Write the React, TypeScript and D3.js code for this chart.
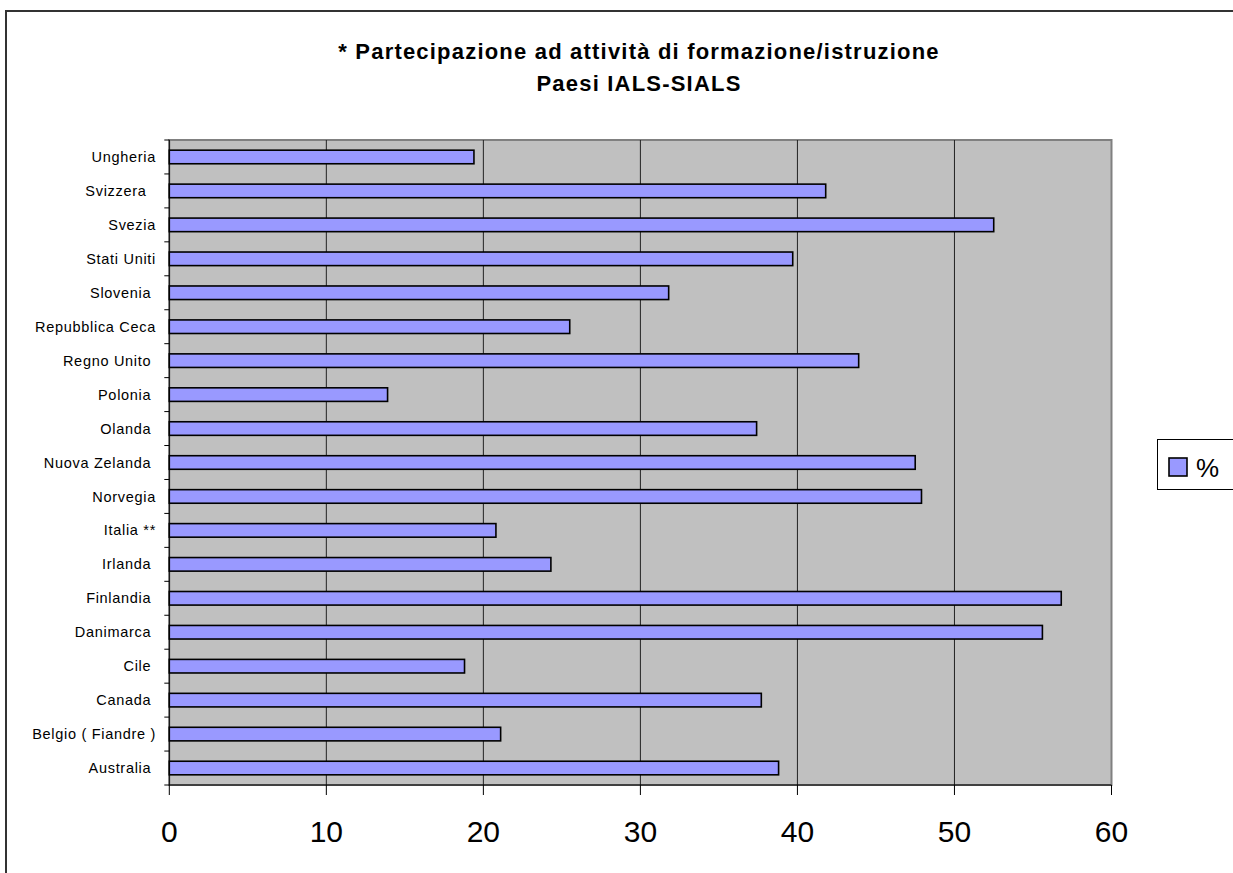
import React from "react";
import * as d3 from "d3";

// Countries as listed in the source table (bottom to top on the chart)
const countries: string[] = [
  "Australia ",
  "Belgio ( Fiandre )",
  "Canada ",
  "Cile ",
  "Danimarca ",
  "Finlandia ",
  "Irlanda ",
  "Italia **",
  "Norvegia",
  "Nuova Zelanda ",
  "Olanda ",
  "Polonia ",
  "Regno Unito ",
  "Repubblica Ceca",
  "Slovenia ",
  "Stati Uniti",
  "Svezia",
  "Svizzera  ",
  "Ungheria",
];

// Participation rate (%)
const participation: number[] = [
  38.8, 21.1, 37.7, 18.8, 55.6, 56.8, 24.3, 20.8, 47.9, 47.5, 37.4, 13.9,
  43.9, 25.5, 31.8, 39.7, 52.5, 41.8, 19.4,
];

const xTicks: number[] = [0, 10, 20, 30, 40, 50, 60];
const titleLines: string[] = [
  "* Partecipazione ad attività di formazione/istruzione",
  "Paesi IALS-SIALS",
];
const legendLabel = "%";

const W = 1233;
const H = 873;
const plot = { left: 169.3, right: 1111.5, top: 140, bottom: 785 };

export default function App() {
  const x = d3.scaleLinear().domain([0, 60]).range([plot.left, plot.right]);
  const order = [...countries].reverse();
  const y = d3
    .scaleBand<string>()
    .domain(order)
    .range([plot.top, plot.bottom])
    .paddingInner(0.6)
    .paddingOuter(0.3);
  const band = d3.scaleBand<string>().domain(order).range([plot.top, plot.bottom]);

  const rows = countries.map((c, i) => ({ c, v: participation[i] }));
  const font = "Arial, 'Liberation Sans', sans-serif";

  return (
    <div style={{ position: "absolute", left: 0, top: 0, width: W, height: H, overflow: "hidden" }}>
      <svg width={W} height={H} style={{ display: "block", fontFamily: font }}>
        <rect x={0} y={0} width={W} height={H} fill="#ffffff" />
        {/* chart area frame (runs past the right and bottom edges) */}
        <path d={`M6,${H + 10}V11H${W + 10}`} fill="none" stroke="#333333" strokeWidth={2} />

        {/* title */}
        {titleLines.map((t, i) => (
          <text
            key={t}
            x={639}
            y={59 + i * 32}
            textAnchor="middle"
            fontSize={22}
            fontWeight="bold"
            letterSpacing={1.2}
            fill="#000"
          >
            {t}
          </text>
        ))}

        {/* plot area */}
        <rect
          x={plot.left}
          y={plot.top}
          width={plot.right - plot.left}
          height={plot.bottom - plot.top}
          fill="#c0c0c0"
          stroke="#808080"
          strokeWidth={2}
        />

        {/* vertical gridlines */}
        {xTicks
          .filter((t) => t > 0 && t < 60)
          .map((t) => (
            <line key={t} x1={x(t)} x2={x(t)} y1={plot.top} y2={plot.bottom} stroke="#222" strokeWidth={1} />
          ))}

        {/* bars */}
        {rows.map((r) => (
          <rect
            key={r.c}
            x={x(0)}
            y={y(r.c)}
            width={x(r.v) - x(0)}
            height={y.bandwidth()}
            fill="#9999ff"
            stroke="#000"
            strokeWidth={1.6}
          />
        ))}

        {/* axes */}
        <line x1={plot.left} x2={plot.left} y1={plot.top} y2={plot.bottom} stroke="#000" strokeWidth={1} />
        <line x1={plot.left} x2={plot.right} y1={plot.bottom} y2={plot.bottom} stroke="#000" strokeWidth={1} />

        {/* category ticks */}
        {[...countries, null].map((_, i) => {
          const yy = plot.top + i * band.step();
          return <line key={"yt" + i} x1={plot.left - 5} x2={plot.left} y1={yy} y2={yy} stroke="#000" />;
        })}
        {rows.map((r) => (
          <text
            key={"l" + r.c}
            x={156}
            y={(band(r.c) ?? 0) + band.bandwidth() / 2}
            dy="0.35em"
            textAnchor="end"
            fontSize={14.5}
            letterSpacing={0.7}
            fill="#000"
            style={{ whiteSpace: "pre" }}
          >
            {r.c}
          </text>
        ))}

        {/* value ticks */}
        {xTicks.map((t) => (
          <g key={"xt" + t}>
            <line x1={x(t)} x2={x(t)} y1={plot.bottom} y2={plot.bottom + 10} stroke="#000" />
            <text x={x(t)} y={842} textAnchor="middle" fontSize={30} fill="#000">
              {t}
            </text>
          </g>
        ))}

        {/* legend */}
        <rect x={1157.5} y={439.5} width={100} height={50} fill="#fff" stroke="#000" strokeWidth={1} />
        <rect x={1169} y={458} width={18} height={18} fill="#9999ff" stroke="#000" strokeWidth={1.6} />
        <text x={1196} y={477} fontSize={26} fill="#000">
          {legendLabel}
        </text>
      </svg>
    </div>
  );
}
